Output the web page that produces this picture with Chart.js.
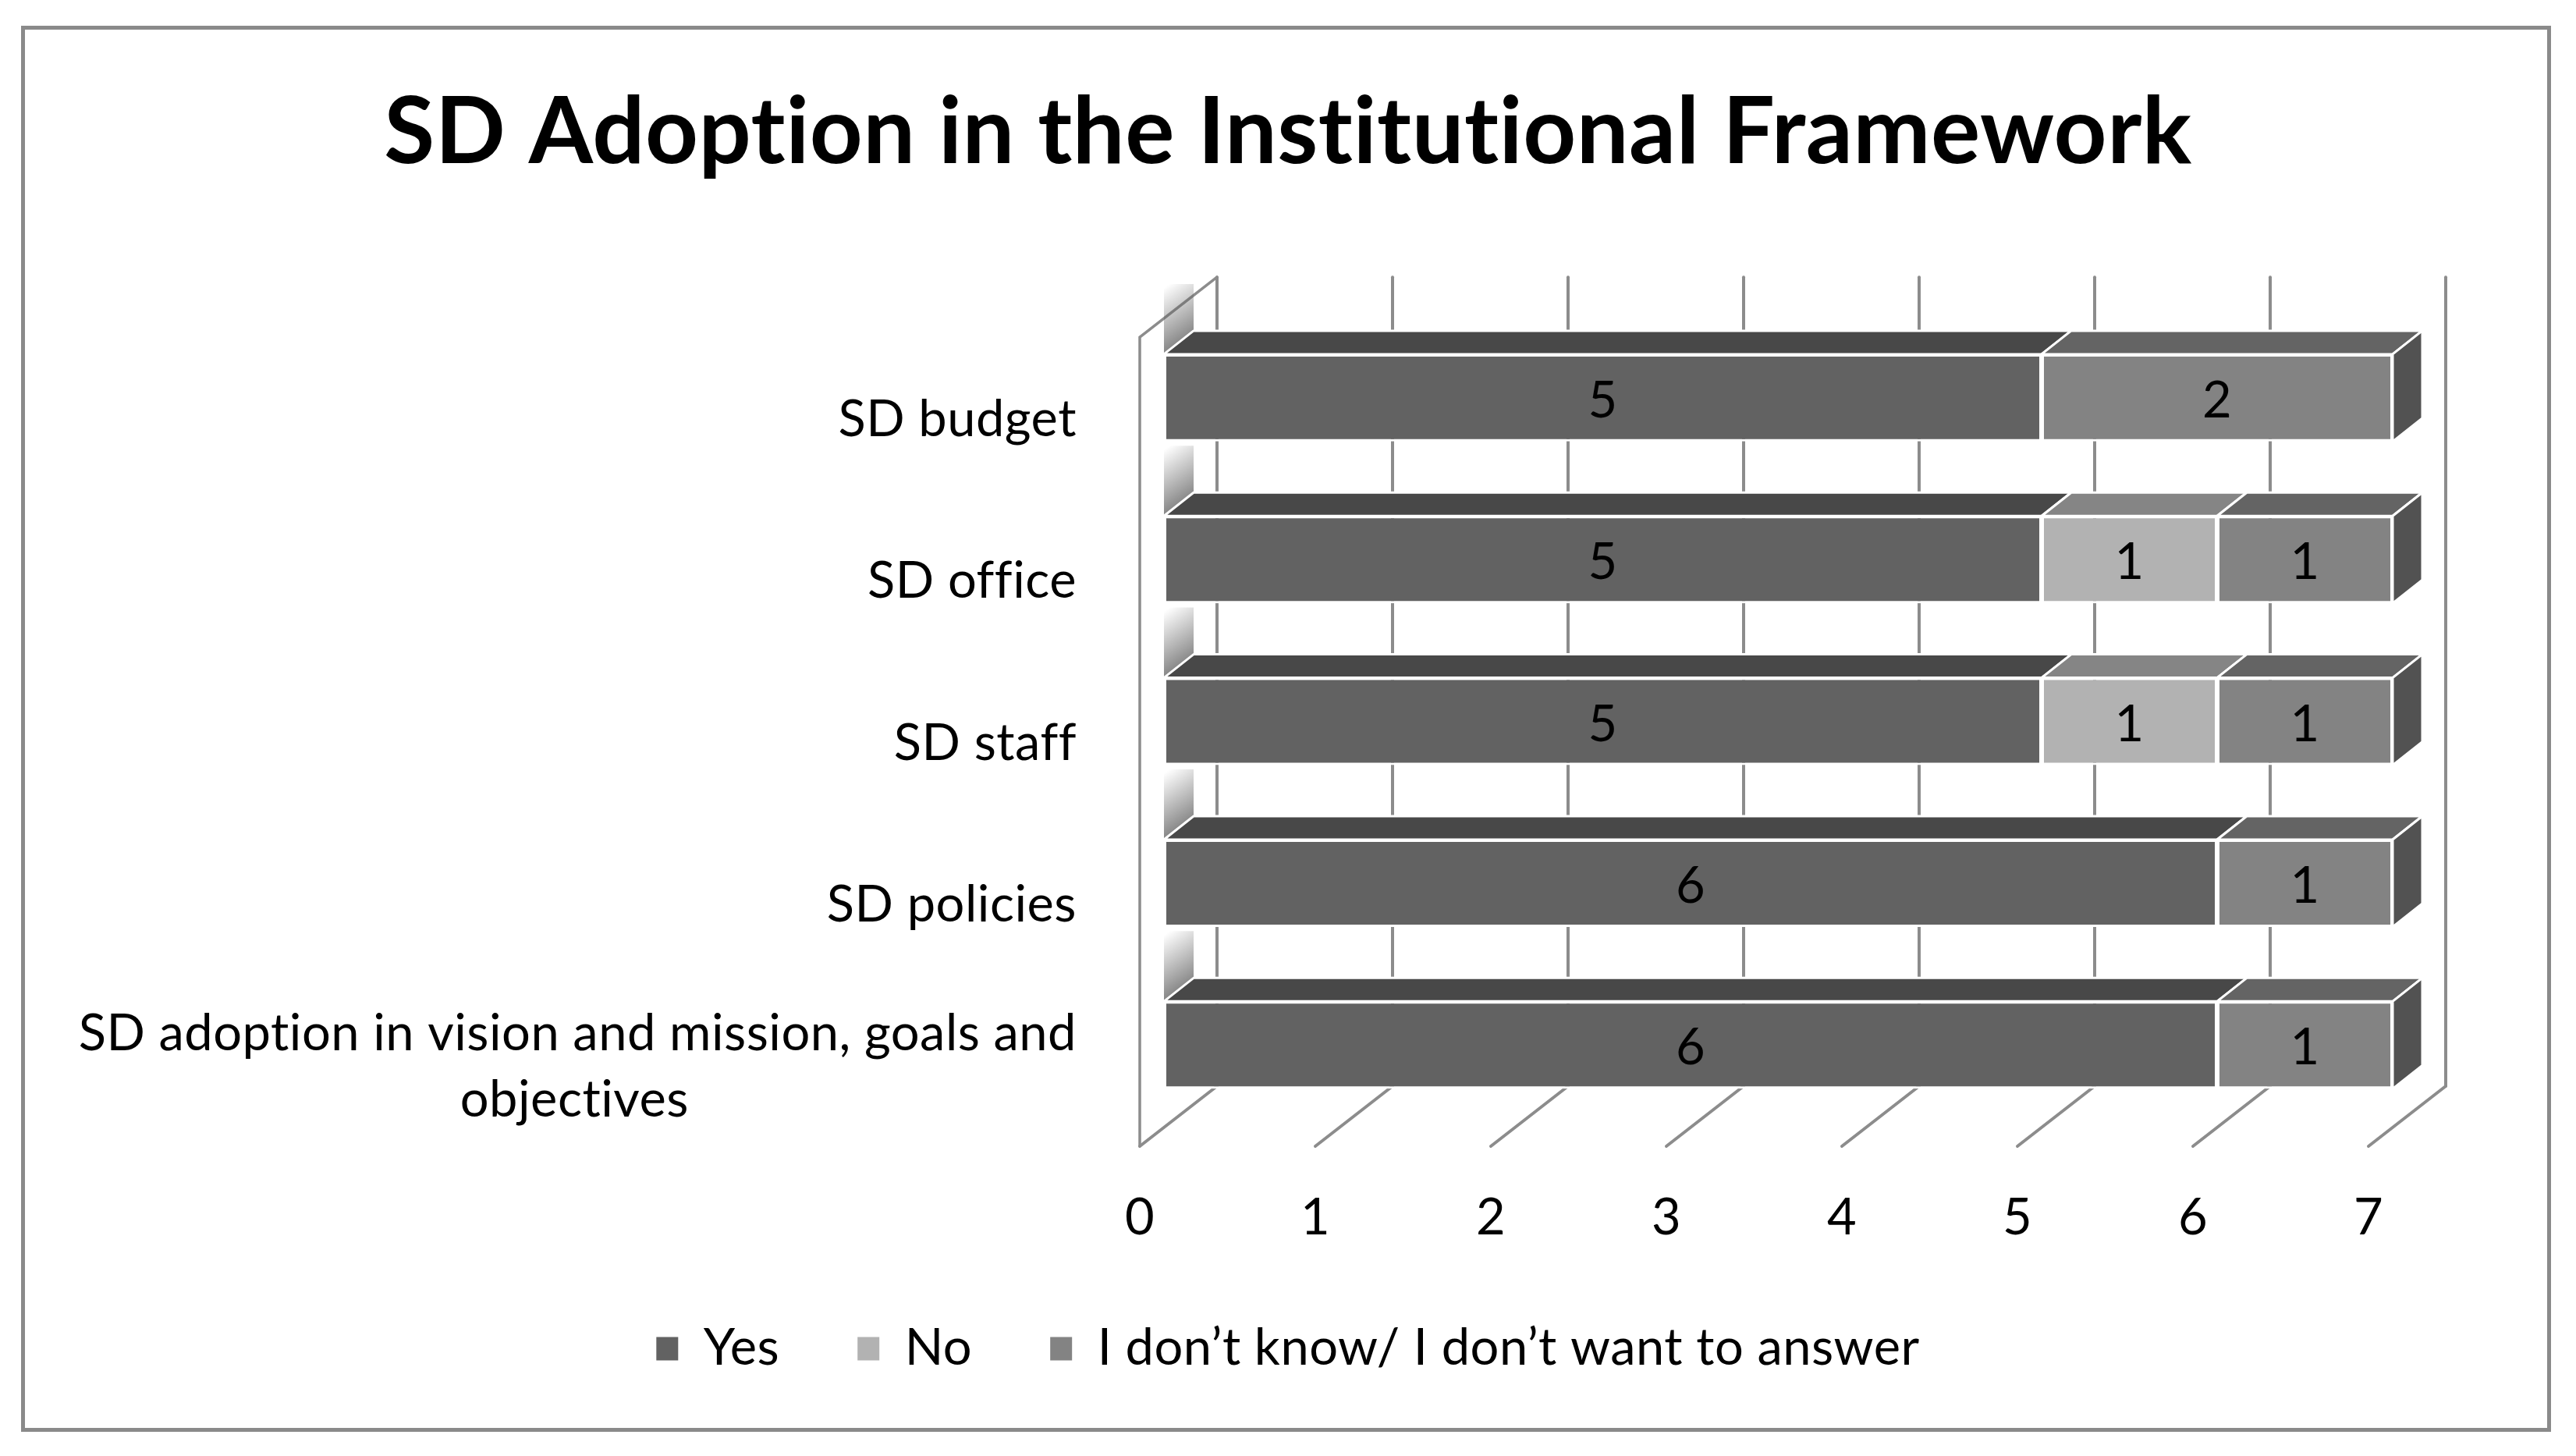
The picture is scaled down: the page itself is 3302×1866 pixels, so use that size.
<!DOCTYPE html>
<html>
<head>
<meta charset="utf-8">
<title>SD Adoption in the Institutional Framework</title>
<script src="https://cdn.jsdelivr.net/npm/chart.js@4.4.1/dist/chart.umd.min.js"></script>
<style>
  html, body { margin: 0; padding: 0; background: #fff; }
  #chart { display: block; }
</style>
</head>
<body>
<canvas id="chart" width="3302" height="1866"></canvas>
<script>
// Chart data
const categories = [
  'SD budget',
  'SD office',
  'SD staff',
  'SD policies',
  ['SD adoption in vision and mission, goals and', 'objectives']
];
const yesCounts = [5, 5, 5, 6, 6];
const noCounts = [0, 1, 1, 0, 0];
const unsureCounts = [2, 1, 1, 1, 1];
const xTicks = [0, 1, 2, 3, 4, 5, 6, 7];

const FAMILY = 'Lato, "Liberation Sans", sans-serif';
const LABEL_SIZE = 65;
const SPACING = '0.5px'; // also stops Lato from using its "ti" ligature

// fake 3D: offsets from the bar front plane
const BACK = { x: 68, y: -51 };
const FRONT = { x: -31, y: 26 };
const BAR_DEPTH = { x: 38, y: 30 };
const topColors = ['#484848', '#858585', '#646464'];
const sideColors = ['#3e3e3e', '#747474', '#525252'];

// pad the shorter line of a wrapped label so both lines look centred
const measureCtx = document.createElement('canvas').getContext('2d');
function centerLines(lines) {
  measureCtx.font = LABEL_SIZE + 'px ' + FAMILY;
  measureCtx.letterSpacing = SPACING;
  const widest = Math.max(...lines.map(l => measureCtx.measureText(l).width));
  const space = measureCtx.measureText('\u00a0').width;
  return lines.map(l => {
    const n = Math.round((widest - measureCtx.measureText(l).width) / 2 / space);
    return l + '\u00a0'.repeat(n);
  });
}

function line(ctx, x1, y1, x2, y2) {
  ctx.beginPath();
  ctx.moveTo(x1, y1);
  ctx.lineTo(x2, y2);
  ctx.stroke();
}

const chart3d = {
  id: 'chart3d',
  beforeUpdate(chart) {
    chart.ctx.letterSpacing = SPACING;
  },
  beforeDraw(chart) {
    const ctx = chart.ctx;
    ctx.letterSpacing = SPACING;
    ctx.save();
    ctx.strokeStyle = '#8a8a8a';
    ctx.lineWidth = 5;
    ctx.strokeRect(29.5, 35.5, 3238, 1797);
    ctx.restore();
  },
  beforeDatasetsDraw(chart) {
    const { ctx, chartArea: a, scales: { x } } = chart;
    ctx.save();
    ctx.strokeStyle = '#8c8c8c';
    ctx.lineWidth = 4;
    ctx.lineCap = 'round';

    // back wall gridlines and floor ticks
    xTicks.forEach(v => {
      const px = x.getPixelForValue(v);
      line(ctx, px + BACK.x, a.top + BACK.y, px + BACK.x, a.bottom + BACK.y);
      line(ctx, px + FRONT.x, a.bottom + FRONT.y, px + BACK.x, a.bottom + BACK.y);
    });

    // left side wall
    const p0 = x.getPixelForValue(0);
    ctx.lineWidth = 3.5;
    ctx.beginPath();
    ctx.moveTo(p0 + BACK.x, a.top + BACK.y);
    ctx.lineTo(p0 + FRONT.x, a.top + FRONT.y);
    ctx.lineTo(p0 + FRONT.x, a.bottom + FRONT.y);
    ctx.stroke();

    // shadow of each bar end on the side wall
    chart.getDatasetMeta(0).data.forEach(bar => {
      const { base: x0, y, height } = bar.getProps(['base', 'y', 'height'], true);
      const top = y - height / 2;
      const g = ctx.createLinearGradient(x0 + BAR_DEPTH.x, top - BAR_DEPTH.y, x0, top - 85);
      g.addColorStop(0, 'rgba(90,90,90,0.7)');
      g.addColorStop(1, 'rgba(90,90,90,0)');
      ctx.fillStyle = g;
      ctx.beginPath();
      ctx.moveTo(x0, top);
      ctx.lineTo(x0 + BAR_DEPTH.x, top - BAR_DEPTH.y);
      ctx.lineTo(x0 + BAR_DEPTH.x, top - BAR_DEPTH.y - 60);
      ctx.lineTo(x0, top - 90);
      ctx.closePath();
      ctx.fill();
    });

    // top and side faces of the bars
    ctx.strokeStyle = '#ffffff';
    ctx.lineWidth = 3;
    ctx.lineJoin = 'round';
    const nSets = chart.data.datasets.length;
    chart.data.datasets.forEach((ds, di) => {
      const meta = chart.getDatasetMeta(di);
      meta.data.forEach((bar, i) => {
        if (!ds.data[i]) return;
        const { x: x1, base: x0, y, height } = bar.getProps(['x', 'base', 'y', 'height'], true);
        const top = y - height / 2;
        const bottom = y + height / 2;

        ctx.fillStyle = topColors[di];
        ctx.beginPath();
        ctx.moveTo(x0, top);
        ctx.lineTo(x0 + BAR_DEPTH.x, top - BAR_DEPTH.y);
        ctx.lineTo(x1 + BAR_DEPTH.x, top - BAR_DEPTH.y);
        ctx.lineTo(x1, top);
        ctx.closePath();
        ctx.fill();
        ctx.stroke();

        let last = true;
        for (let k = di + 1; k < nSets; k++) {
          if (chart.data.datasets[k].data[i]) last = false;
        }
        if (last) {
          ctx.fillStyle = sideColors[di];
          ctx.beginPath();
          ctx.moveTo(x1, top);
          ctx.lineTo(x1 + BAR_DEPTH.x, top - BAR_DEPTH.y);
          ctx.lineTo(x1 + BAR_DEPTH.x, bottom - BAR_DEPTH.y);
          ctx.lineTo(x1, bottom);
          ctx.closePath();
          ctx.fill();
          ctx.stroke();
        }
      });
    });
    ctx.restore();
  },
  afterDatasetsDraw(chart) {
    const ctx = chart.ctx;
    ctx.save();
    ctx.fillStyle = '#000';
    ctx.font = LABEL_SIZE + 'px ' + FAMILY;
    ctx.textAlign = 'center';
    ctx.textBaseline = 'middle';
    chart.data.datasets.forEach((ds, di) => {
      chart.getDatasetMeta(di).data.forEach((bar, i) => {
        if (!ds.data[i]) return;
        const { x: x1, base: x0, y } = bar.getProps(['x', 'base', 'y'], true);
        ctx.fillText(String(ds.data[i]), (x0 + x1) / 2, y + 4);
      });
    });
    ctx.restore();
  }
};

const ctx = document.getElementById('chart').getContext('2d');
new Chart(ctx, {
  type: 'bar',
  data: {
    labels: categories,
    datasets: [
      { label: 'Yes', data: yesCounts, backgroundColor: '#626262' },
      { label: 'No', data: noCounts, backgroundColor: '#b2b2b2' },
      { label: 'I don\u2019t know/ I don\u2019t want to answer', data: unsureCounts, backgroundColor: '#838383' }
    ]
  },
  options: {
    indexAxis: 'y',
    responsive: false,
    animation: false,
    devicePixelRatio: 1,
    layout: { padding: { top: 0, bottom: 95, left: 0, right: 0 } },
    datasets: {
      bar: {
        categoryPercentage: 1,
        barPercentage: 0.54,
        borderColor: '#ffffff',
        borderWidth: 3,
        borderSkipped: false
      }
    },
    scales: {
      x: {
        stacked: true,
        min: 0,
        max: 7,
        grid: { display: false, drawTicks: false },
        border: { display: false },
        ticks: {
          stepSize: 1,
          padding: 79,
          labelOffset: FRONT.x,
          color: '#000',
          font: { family: FAMILY, size: LABEL_SIZE }
        },
        afterFit(scale) { scale.height = 153; }
      },
      y: {
        stacked: true,
        grid: { display: false, drawTicks: false },
        border: { display: false },
        ticks: {
          autoSkip: false,
          padding: 112,
          labelOffset: FRONT.y + 2,
          color: '#000',
          font: { family: FAMILY, size: LABEL_SIZE, lineHeight: 1.3 },
          callback: function (value) {
            const l = this.getLabelForValue(value);
            return Array.isArray(l) ? centerLines(l) : l;
          }
        },
        afterFit(scale) { scale.width = 1492; }
      },
      y2: {
        type: 'category',
        position: 'right',
        grid: { display: false },
        border: { display: false },
        ticks: { display: false },
        afterFit(scale) { scale.width = 235; }
      }
    },
    plugins: {
      title: {
        display: true,
        text: 'SD Adoption in the Institutional Framework',
        color: '#000',
        font: { family: FAMILY, size: 118.5, weight: 'bold' },
        padding: { top: 100, bottom: 164 }
      },
      legend: {
        position: 'bottom',
        labels: {
          color: '#000',
          font: { family: FAMILY, size: LABEL_SIZE },
          boxWidth: 28,
          boxHeight: 30,
          padding: 100,
          generateLabels: (chart) =>
            Chart.defaults.plugins.legend.labels.generateLabels(chart).map(l => ({ ...l, lineWidth: 0 }))
        }
      },
      tooltip: { enabled: false }
    }
  },
  plugins: [chart3d]
});
</script>
</body>
</html>
